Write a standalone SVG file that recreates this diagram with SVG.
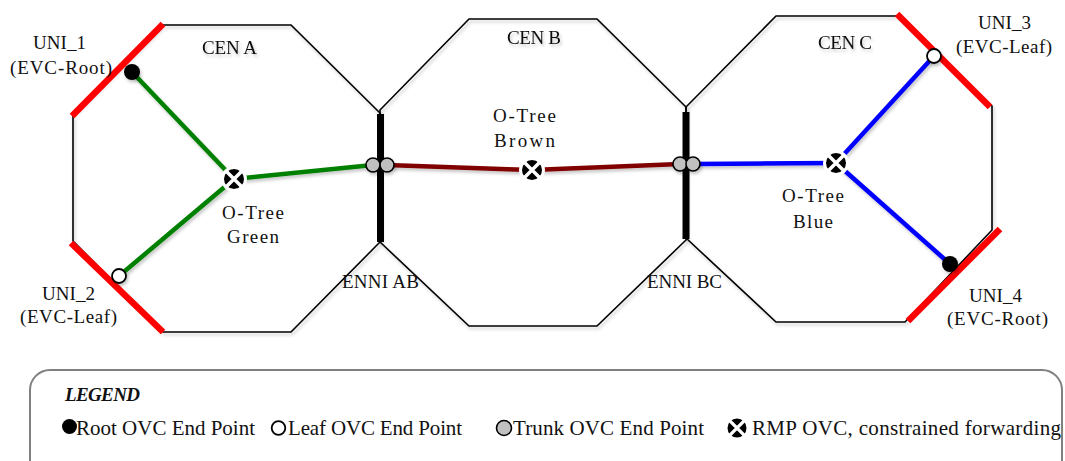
<svg xmlns="http://www.w3.org/2000/svg" xmlns:xlink="http://www.w3.org/1999/xlink" width="1065" height="461" viewBox="0 0 1065 461">
<style>
text{font-family:"Liberation Serif","Times New Roman",serif;font-size:19px;fill:#111}
.leg{font-size:21px}
.legt{font-size:19px;font-weight:bold;font-style:italic}
.oct{fill:none;stroke:#000;stroke-width:1.6;stroke-linejoin:miter}
.uni{stroke:#ff0000;stroke-width:6.5;fill:none}
.enni{stroke:#000;stroke-width:7}
.g{stroke:#008000;stroke-width:4.5;fill:none}
.b{stroke:#0000ff;stroke-width:4.5;fill:none}
.br{stroke:#800000;stroke-width:4.5;fill:none}
.root{fill:#000}
.leaf{fill:#fff;stroke:#000;stroke-width:1.8}
.trunk{fill:#c0c0c0;stroke:#000;stroke-width:1.6}
</style>
<defs>
<filter id="sh" x="-10%" y="-10%" width="130%" height="130%">
<feDropShadow dx="1.5" dy="2.5" stdDeviation="1.5" flood-color="#000" flood-opacity="0.22"/>
</filter>
<g id="rmp">
<circle r="13" fill="#fff"/>
<circle r="10" fill="#000"/>
<path d="M-8,-8L8,8M-8,8L8,-8" stroke="#fff" stroke-width="3.5"/>
</g>
</defs>
<rect width="1065" height="461" fill="#fff"/>

<g id="cen-a" filter="url(#sh)">
<polygon class="oct" points="163,25 291,25 380,113 380,242 291,332 163,332 73,241 73,114"/>
<text x="202" y="54" textLength="55">CEN A</text>
</g>
<g id="cen-b" filter="url(#sh)">
<polygon class="oct" points="469,19 597,19 686,107 686,240 597,326 469,326 380,242 380,110"/>
<text x="507" y="44" textLength="54">CEN B</text>
</g>
<g id="cen-c" filter="url(#sh)">
<polygon class="oct" points="776,16 899,16 992,106 992,230 905,322 776,322 686,238 686,107"/>
<text x="818" y="49" textLength="54">CEN C</text>
</g>

<g id="uni-1">
<line class="uni" x1="72" y1="116" x2="163" y2="24"/>
<text x="33" y="49" textLength="53">UNI_1</text>
<text x="10" y="74" textLength="102">(EVC-Root)</text>
</g>
<g id="uni-2">
<line class="uni" x1="71" y1="243" x2="163" y2="332"/>
<text x="42" y="300" textLength="53">UNI_2</text>
<text x="20" y="323" textLength="97">(EVC-Leaf)</text>
</g>
<g id="uni-3">
<line class="uni" x1="897" y1="14" x2="990" y2="107"/>
<text x="978" y="29" textLength="53">UNI_3</text>
<text x="956" y="53" textLength="96">(EVC-Leaf)</text>
</g>
<g id="uni-4">
<line class="uni" x1="1000" y1="229" x2="908" y2="321"/>
<text x="969" y="302" textLength="53">UNI_4</text>
<text x="947" y="325" textLength="101">(EVC-Root)</text>
</g>

<g id="enni-ab">
<line class="enni" x1="380.5" y1="114" x2="380.5" y2="242"/>
<text x="342" y="288" textLength="77">ENNI AB</text>
</g>
<g id="enni-bc">
<line class="enni" x1="686" y1="112" x2="686" y2="239"/>
<text x="647" y="288" textLength="75">ENNI BC</text>
</g>

<g id="connectors" filter="url(#sh)">
<line class="g" x1="132" y1="72" x2="234" y2="179"/>
<line class="g" x1="119" y1="276" x2="234" y2="179"/>
<line class="g" x1="234" y1="179" x2="373" y2="165"/>
<line class="br" x1="387" y1="165" x2="532" y2="170"/>
<line class="br" x1="532" y1="170" x2="680" y2="164"/>
<line class="b" x1="693" y1="164" x2="836" y2="163"/>
<line class="b" x1="836" y1="163" x2="934" y2="56"/>
<line class="b" x1="836" y1="163" x2="950" y2="264"/>
</g>

<g id="rmp-green">
<use xlink:href="#rmp" x="234" y="179"/>
<text x="222" y="219" textLength="62">O-Tree</text>
<text x="227" y="243" textLength="52">Green</text>
</g>
<g id="rmp-brown">
<use xlink:href="#rmp" x="532" y="170"/>
<text x="493" y="122" textLength="63">O-Tree</text>
<text x="494" y="147" textLength="61">Brown</text>
</g>
<g id="rmp-blue">
<use xlink:href="#rmp" x="836" y="163"/>
<text x="782" y="202" textLength="62">O-Tree</text>
<text x="793" y="228" textLength="40">Blue</text>
</g>

<g id="endpoints" filter="url(#sh)">
<circle id="ep-uni1" class="root" cx="132" cy="72" r="8"/>
<circle id="ep-uni2" class="leaf" cx="119" cy="276" r="7"/>
<circle id="ep-uni3" class="leaf" cx="934" cy="56" r="7"/>
<circle id="ep-uni4" class="root" cx="950" cy="264" r="8"/>
<circle id="ep-ab1" class="trunk" cx="373" cy="165" r="7"/>
<circle id="ep-ab2" class="trunk" cx="387" cy="165" r="7"/>
<circle id="ep-bc1" class="trunk" cx="680" cy="164" r="7"/>
<circle id="ep-bc2" class="trunk" cx="693" cy="164" r="7"/>
</g>

<g id="legend">
<rect x="30" y="370" width="1032" height="130" rx="20" ry="20" fill="none" stroke="#808080" stroke-width="2"/>
<text class="legt" x="65" y="401" textLength="75">LEGEND</text>
<circle class="root" cx="69.5" cy="426.5" r="7.5"/>
<text class="leg" x="76" y="435" textLength="179">Root OVC End Point</text>
<circle class="leaf" cx="278.5" cy="428" r="6.8" stroke-width="2"/>
<text class="leg" x="288" y="435" textLength="174">Leaf OVC End Point</text>
<circle class="trunk" cx="504" cy="428" r="7.5" stroke-width="2"/>
<text class="leg" x="513" y="435" textLength="191">Trunk OVC End Point</text>
<use xlink:href="#rmp" transform="translate(737,428) scale(0.95)"/>
<text class="leg" x="752" y="435" textLength="309">RMP OVC, constrained forwarding</text>
</g>
</svg>
